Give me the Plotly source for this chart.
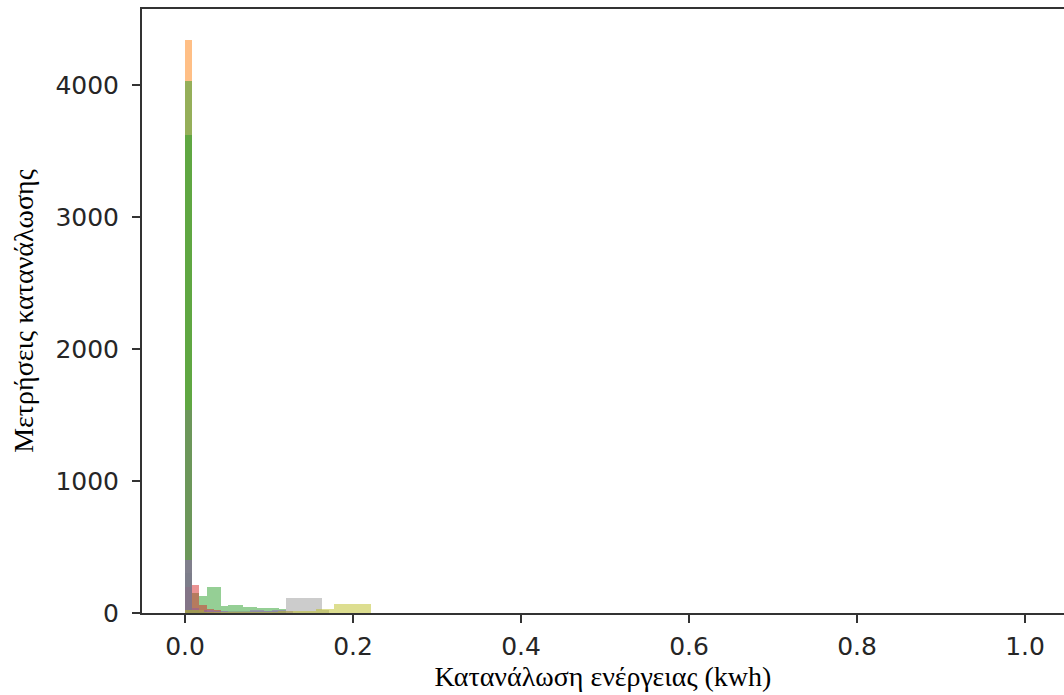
import plotly.graph_objects as go

# Histogram data per series: first bin edge, bin width, counts per bin
bin_start = 0.0
blue_w = 0.0086
blue_counts = [300, 15, 10, 5]
orange_w = 0.0086
orange_counts = [4340, 40, 20, 10]
green_w = 0.0086
green_counts = [4030, 150, 130, 200, 200, 50, 60, 60, 45, 45, 40, 40, 35, 30]
red_w = 0.0086
red_counts = [200, 210, 60, 30, 20]
purple_w = 0.0086
purple_counts = [400, 40, 20, 20, 15, 15, 10, 10, 10, 20, 20, 15, 20, 25, 15]
green2_w = 0.0086
green2_counts = [3620, 20, 10]
gray_w = 0.0086
gray_counts = [1540, 20, 15, 15, 15, 15, 15, 15, 15, 15, 15, 15, 15, 15,
               110, 110, 110, 110, 110, 20]
olive_w = 0.0222
olive_counts = [20, 10, 10, 10, 10, 15, 15, 30, 70, 70]

series = [
    ("blue", blue_w, blue_counts, "rgba(31,119,180,0.5)"),
    ("orange", orange_w, orange_counts, "rgba(255,127,14,0.5)"),
    ("green", green_w, green_counts, "rgba(44,160,44,0.5)"),
    ("red", red_w, red_counts, "rgba(214,39,40,0.5)"),
    ("green2", green2_w, green2_counts, "rgba(44,160,44,0.5)"),
    ("gray", gray_w, gray_counts, "rgba(127,127,127,0.4)"),
    ("purple", purple_w, purple_counts, "rgba(148,103,189,0.5)"),
    ("olive", olive_w, olive_counts, "rgba(188,189,34,0.5)"),
]

x_ticks = [0.0, 0.2, 0.4, 0.6, 0.8, 1.0]
y_ticks = [0, 1000, 2000, 3000, 4000]

fig = go.Figure()
for name, w, counts, color in series:
    centers = [bin_start + w * (i + 0.5) for i in range(len(counts))]
    fig.add_trace(go.Bar(
        x=centers, y=counts, width=[w] * len(counts), name=name,
        marker=dict(color=color, line=dict(width=0)), showlegend=False,
    ))

axis_common = dict(
    showline=True, linecolor="#333333", linewidth=2, mirror=True,
    ticks="outside", ticklen=8, tickwidth=1.5, tickcolor="#333333",
    showgrid=False, zeroline=False, automargin=False,
    tickfont=dict(family="DejaVu Sans", size=25, color="#262626"),
)

fig.update_layout(
    width=1064, height=695,
    margin=dict(l=142, r=0, t=9, b=82),
    paper_bgcolor="white", plot_bgcolor="white",
    barmode="overlay", bargap=0,
    xaxis=dict(
        range=[-0.0512, 1.0464], tickvals=x_ticks,
        ticktext=[f"{v:.1f}" for v in x_ticks],
        ticklabelstandoff=2,
        title=dict(text="Κατανάλωση ενέργειας (kwh)", standoff=0,
                   font=dict(family="Liberation Serif", size=28, color="black")),
        **axis_common,
    ),
    yaxis=dict(
        range=[0, 4576], tickvals=y_ticks,
        ticktext=[str(v) for v in y_ticks],
        ticklabelstandoff=8,
        title=dict(text="Μετρήσεις κατανάλωσης", standoff=14,
                   font=dict(family="Liberation Serif", size=28, color="black")),
        **axis_common,
    ),
)

fig.write_html("out.html", config={"displayModeBar": False},
               post_script="document.body.style.margin='0';")
